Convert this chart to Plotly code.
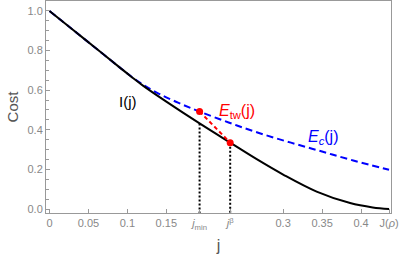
import plotly.graph_objects as go

# ---- data ----
j_I = [0, 0.03, 0.06, 0.09, 0.105, 0.12, 0.15, 0.1927, 0.232, 0.265, 0.30, 0.343, 0.386, 0.415, 0.436]
I_vals = [1.0, 0.905, 0.81, 0.715, 0.668, 0.623, 0.542, 0.432, 0.335, 0.254, 0.174, 0.088, 0.030, 0.008, 0.0]

j_Ec = [0, 0.03, 0.06, 0.09, 0.105, 0.12, 0.14, 0.165, 0.1927, 0.23, 0.268, 0.31, 0.35, 0.39, 0.436]
Ec_vals = [1.0, 0.905, 0.81, 0.715, 0.669, 0.628, 0.583, 0.537, 0.492, 0.437, 0.385, 0.335, 0.29, 0.245, 0.198]

j_min = 0.1927
j_beta = 0.232
J_rho = 0.436
Etw_j = [j_min, j_beta]
Etw_vals = [0.492, 0.335]
I_at_jmin = 0.432

x_tick_vals = [0, 0.05, 0.1, 0.15, j_min, j_beta, 0.3, 0.35, 0.4, J_rho]
x_tick_text = ["0", "0.05", "0.1", "0.15", "<i>j</i><sub>min</sub>", "<i>j</i><sup>β</sup>",
               "0.3", "0.35", "0.4", "J(<i>ρ</i>)"]
y_tick_vals = [0.0, 0.2, 0.4, 0.6, 0.8, 1.0]
y_tick_text = ["0.0", "0.2", "0.4", "0.6", "0.8", "1.0"]

y_bottom = -0.02
FONT = "Liberation Sans"

fig = go.Figure()

# E_c(j) blue dashed
fig.add_trace(go.Scatter(x=j_Ec, y=Ec_vals, mode="lines", line_shape="spline",
                         line=dict(color="#0000ff", width=2, dash="7px,4px"),
                         showlegend=False, hoverinfo="skip"))
# I(j) black
fig.add_trace(go.Scatter(x=j_I, y=I_vals, mode="lines", line_shape="spline",
                         line=dict(color="black", width=2),
                         showlegend=False, hoverinfo="skip"))
# vertical dotted lines
fig.add_trace(go.Scatter(x=[j_min, j_min], y=[I_at_jmin, y_bottom], mode="lines",
                         line=dict(color="black", width=2, dash="2px,2px"),
                         showlegend=False, hoverinfo="skip"))
fig.add_trace(go.Scatter(x=[j_beta, j_beta], y=[Etw_vals[1], y_bottom], mode="lines",
                         line=dict(color="black", width=2, dash="2px,2px"),
                         showlegend=False, hoverinfo="skip"))
# E_tw red dashed segment + dots
fig.add_trace(go.Scatter(x=Etw_j, y=Etw_vals, mode="lines",
                         line=dict(color="#ff0000", width=2, dash="4px,3px"),
                         showlegend=False, hoverinfo="skip"))
fig.add_trace(go.Scatter(x=Etw_j, y=Etw_vals, mode="markers",
                         marker=dict(color="#ff0000", size=7),
                         showlegend=False, hoverinfo="skip"))

fig.add_annotation(x=0.1013, y=0.543, text="I(j)", showarrow=False,
                   font=dict(family=FONT, size=15, color="black"))
fig.add_annotation(x=0.2406, y=0.49, text="<i>E</i><sub>tw</sub>(j)", showarrow=False,
                   font=dict(family=FONT, size=16, color="#ff0000"))
fig.add_annotation(x=0.3506, y=0.359, text="<i>E<sub>c</sub></i>(j)", showarrow=False,
                   font=dict(family=FONT, size=16, color="#0000ff"))

axis_common = dict(showline=True, linecolor="#999999", linewidth=1, mirror=True,
                   showgrid=False, zeroline=False, ticks="inside", tickcolor="#999999",
                   automargin=False,
                   tickfont=dict(family=FONT, size=11, color="#888888"))

fig.update_xaxes(range=[-0.0045, 0.4385], tickmode="array", tickvals=x_tick_vals,
                 ticktext=x_tick_text, ticklen=4, tickwidth=1,
                 title=dict(text="j", font=dict(family=FONT, size=16, color="#555555"), standoff=9),
                 **axis_common)
fig.update_yaxes(range=[y_bottom, 1.05], tickmode="array", tickvals=y_tick_vals,
                 ticktext=y_tick_text, ticklen=4, tickwidth=1,
                 minor=dict(dtick=0.05, ticklen=2.5, tickcolor="#999999", ticks="inside", showgrid=False),
                 title=dict(text="Cost", font=dict(family=FONT, size=15, color="#555555"), standoff=5),
                 **axis_common)

fig.update_layout(width=399, height=260, margin=dict(l=46, r=8, t=1, b=47),
                  plot_bgcolor="white", paper_bgcolor="white")

fig.write_html("out.html", config={"displayModeBar": False},
               post_script="document.body.style.margin='0';document.body.style.padding='0';")
